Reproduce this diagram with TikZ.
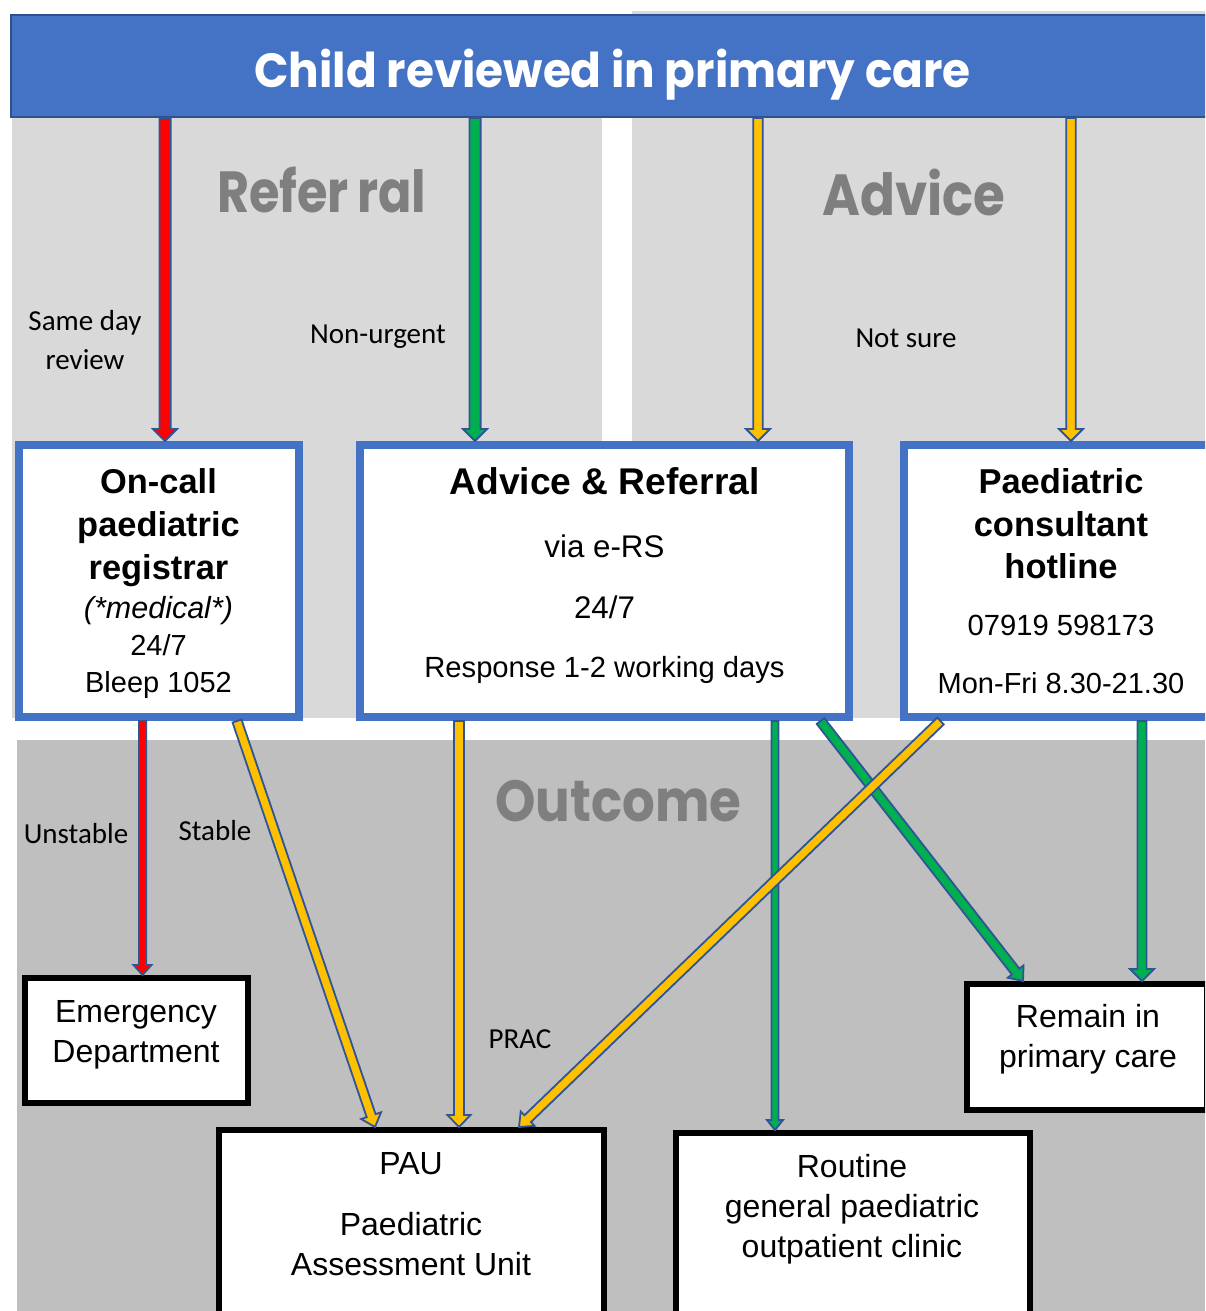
\documentclass[tikz,border=0pt]{standalone}
\usepackage{fontspec}
\setmainfont{Liberation Sans}
\newfontfamily\gothicfont{Poppins}
\newfontfamily\calfont{Carlito}
\usetikzlibrary{calc}
\definecolor{bannerblue}{HTML}{4472C4}
\definecolor{bannerdark}{HTML}{2F528F}
\definecolor{arrowblue}{HTML}{2F5597}
\definecolor{agreen}{HTML}{00B050}
\definecolor{ayellow}{HTML}{FFC000}
\definecolor{ared}{HTML}{FF0000}
\definecolor{greyA}{HTML}{D9D9D9}
\definecolor{greyB}{HTML}{BFBFBF}
\definecolor{headgrey}{HTML}{7F7F7F}
% #1 colour, #2 start, #3 tip, #4 shaft half-width, #5 head half-width, #6 head length
\newcommand\blockarrow[6]{%
  \path (#2) coordinate (ba-s) (#3) coordinate (ba-t);
  \path ($(ba-t)!#6!(ba-s)$) coordinate (ba-b);
  \draw[arrowline, fill=#1]
    ($(ba-s)!#4!90:(ba-t)$) -- ($(ba-b)!#4!90:(ba-t)$) -- ($(ba-b)!#5!90:(ba-t)$)
    -- (ba-t) -- ($(ba-b)!#5!-90:(ba-t)$) -- ($(ba-b)!#4!-90:(ba-t)$)
    -- ($(ba-s)!#4!-90:(ba-t)$) -- cycle;
}
\begin{document}
\begin{tikzpicture}[x=1pt,y=-1pt,
  banner/.style={draw=bannerdark, fill=bannerblue, line width=2pt, inner sep=0pt},
  bluebox/.style={draw=bannerblue, fill=white, line width=8pt, inner sep=0pt},
  blackbox/.style={draw=black, fill=white, line width=6pt, inner sep=0pt},
  arrowline/.style={draw=arrowblue, line width=1.8pt, line join=miter},
  txt/.style={anchor=base, inner sep=0pt},
  head/.style={anchor=base west, inner sep=0pt, text=headgrey, font=\gothicfont\bfseries\fontsize{58}{60}\selectfont},
  lab/.style={anchor=base, inner sep=0pt, font=\calfont\fontsize{29}{32}\selectfont},
]
\useasboundingbox (0,0) rectangle (1205,1311);
\clip (0,0) rectangle (1205,1311);
% background bands
\fill[greyA] (12,100) rectangle (602,718);
\fill[greyA] (632,11) rectangle (1205,718);
\fill[greyB] (17,740) rectangle (1205,1311);
% banner
\node[banner, minimum width=1219pt, minimum height=102pt] (banner) at (620.5,66) {};
\node[txt, text=white, font=\gothicfont\bfseries\fontsize{48}{50}\selectfont] (title) at (612.5,88) {\scalebox{0.945}[1]{Child reviewed in primary care}};
% headings
\node[head] (hRef) at (217,212) {\scalebox{0.85}[1]{Refer\hspace{10pt}ral}};
\node[head] (hAdv) at (822,215) {\scalebox{0.887}[1]{Advice}};
\node[head] (hOut) at (495,821) {\scalebox{0.887}[1]{Outcome}};
% boxes
\node[bluebox, minimum width=280.5pt, minimum height=272pt] (oncall) at (158.75,581) {};
\node[bluebox, minimum width=489pt, minimum height=272pt] (adv) at (604.5,581) {};
\node[bluebox, minimum width=326pt, minimum height=272pt] (hot) at (1067,581) {};
\node[blackbox, minimum width=222.5pt, minimum height=125pt] (ed) at (136.25,1040.5) {};
\node[blackbox, minimum width=385pt, minimum height=210pt] (pau) at (411.5,1235) {};
\node[blackbox, minimum width=354pt, minimum height=207pt] (routine) at (853,1236.5) {};
\node[blackbox, minimum width=240pt, minimum height=126pt] (remain) at (1087,1047) {};
% column coordinates
\coordinate (c1) at (165,0);
\coordinate (c2) at (475,0);
\coordinate (c3) at (758,0);
\coordinate (c4) at (1071,0);
\coordinate (c5) at (142.5,0);
\coordinate (c6s) at (237,0);
\coordinate (c6e) at (375,0);
\coordinate (c7) at (459,0);
\coordinate (c8s) at (940.5,0);
\coordinate (c8e) at (519,0);
\coordinate (c9) at (775,0);
\coordinate (c10s) at (820.5,0);
\coordinate (c10e) at (1023,0);
\coordinate (c11) at (1142,0);
% arrows
\blockarrow{ared}{c1 |- banner.south}{c1 |- oncall.north}{5.6pt}{12pt}{12pt}
\blockarrow{agreen}{c2 |- banner.south}{c2 |- adv.north}{5.6pt}{12pt}{12pt}
\blockarrow{ayellow}{c3 |- banner.south}{c3 |- adv.north}{4.8pt}{12pt}{12pt}
\blockarrow{ayellow}{c4 |- banner.south}{c4 |- hot.north}{4.8pt}{12pt}{12pt}
\blockarrow{ared}{c5 |- oncall.south}{c5 |- ed.north}{3.6pt}{9pt}{10pt}
\blockarrow{ayellow}{c6s |- oncall.south}{c6e |- pau.north}{4.7pt}{10.5pt}{12pt}
\blockarrow{ayellow}{c7 |- adv.south}{c7 |- pau.north}{5pt}{11.5pt}{12pt}
\blockarrow{agreen}{c9 |- adv.south}{c9 |- routine.north}{3.5pt}{8pt}{10pt}
\blockarrow{agreen}{c10s |- adv.south}{c10e |- remain.north}{4.8pt}{10pt}{12pt}
\blockarrow{agreen}{c11 |- hot.south}{c11 |- remain.north}{4.5pt}{12pt}{12pt}
\blockarrow{ayellow}{c8s |- hot.south}{c8e |- pau.north}{4.7pt}{10pt}{12pt}
% arrow labels
\node[lab] (lSame1) at (85,330) {Same day};
\node[lab] (lSame2) at (85,369) {review};
\node[lab] (lNon) at (378,343) {Non-urgent};
\node[lab] (lNot) at (906,347) {Not sure};
\node[lab] (lUns) at (76,843) {Unstable};
\node[lab] (lSta) at (215,840) {Stable};
\node[lab] (lPrac) at (520,1048) {PRAC};
% on-call text
\node[txt, font=\bfseries\fontsize{34.4}{40}\selectfont] (oc1) at (158.5,493) {On-call};
\node[txt, font=\bfseries\fontsize{34.4}{40}\selectfont] (oc2) at (158.5,536) {paediatric};
\node[txt, font=\bfseries\fontsize{34.4}{40}\selectfont] (oc3) at (158.5,579) {registrar};
\node[txt, font=\itshape\fontsize{30.5}{34}\selectfont] (oc4) at (158.5,618) {(*medical*)};
\node[txt, font=\fontsize{29}{34}\selectfont] (oc5) at (158.5,655) {24/7};
\node[txt, font=\fontsize{29}{34}\selectfont] (oc6) at (158.5,692) {Bleep 1052};
% advice & referral text
\node[txt, font=\bfseries\fontsize{37.2}{42}\selectfont] (ar1) at (604.5,494) {Advice \& Referral};
\node[txt, font=\fontsize{31.3}{36}\selectfont] (ar2) at (604.5,557) {via e-RS};
\node[txt, font=\fontsize{31.3}{36}\selectfont] (ar3) at (604.5,618) {24/7};
\node[txt, font=\fontsize{29.2}{34}\selectfont] (ar4) at (604.5,677) {Response 1-2 working days};
% hotline text
\node[txt, font=\bfseries\fontsize{34.5}{40}\selectfont] (ht1) at (1061,493) {Paediatric};
\node[txt, font=\bfseries\fontsize{34.5}{40}\selectfont] (ht2) at (1061,536) {consultant};
\node[txt, font=\bfseries\fontsize{34.5}{40}\selectfont] (ht3) at (1061,578) {hotline};
\node[txt, font=\fontsize{29.2}{34}\selectfont] (ht4) at (1061,635) {07919 598173};
\node[txt, font=\fontsize{29}{34}\selectfont] (ht5) at (1061,693) {Mon-Fri 8.30-21.30};
% outcome texts
\node[txt, font=\fontsize{32}{36}\selectfont] (ed1) at (136,1022) {Emergency};
\node[txt, font=\fontsize{32}{36}\selectfont] (ed2) at (136,1062) {Department};
\node[txt, font=\fontsize{32}{36}\selectfont] (rm1) at (1088,1027) {Remain in};
\node[txt, font=\fontsize{32}{36}\selectfont] (rm2) at (1088,1067) {primary care};
\node[txt, font=\fontsize{32}{36}\selectfont] (pa1) at (411,1174) {PAU};
\node[txt, font=\fontsize{32}{36}\selectfont] (pa2) at (411,1235) {Paediatric};
\node[txt, font=\fontsize{32}{36}\selectfont] (pa3) at (411,1275) {Assessment Unit};
\node[txt, font=\fontsize{32}{36}\selectfont] (ro1) at (852,1177) {Routine};
\node[txt, font=\fontsize{32}{36}\selectfont] (ro2) at (852,1217) {general paediatric};
\node[txt, font=\fontsize{32}{36}\selectfont] (ro3) at (852,1257) {outpatient clinic};
\end{tikzpicture}
\end{document}
